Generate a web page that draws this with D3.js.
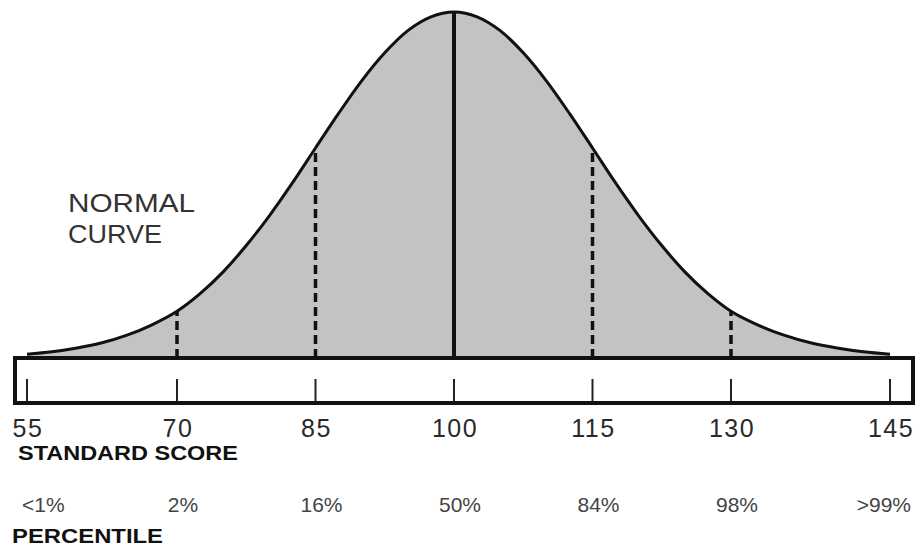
<!DOCTYPE html>
<html>
<head>
<meta charset="utf-8">
<script src="https://cdn.jsdelivr.net/npm/d3@7"></script>
<style>
  body { margin: 0; background: #fff; }
  svg { display: block; }
  text { font-family: "Liberation Sans", Arial, sans-serif; }
</style>
</head>
<body>
<div id="chart"></div>
<script>
// standard scores marked on the scale
var scores = [55, 70, 85, 100, 115, 130, 145];
var percentiles = ["<1%", "2%", "16%", "50%", "84%", "98%", ">99%"];
// dashed / solid guide lines
var guideScores = [70, 85, 115, 130];
var meanScore = 100;

// curve height (percent of peak)
var curveScores = [55, 57.5, 60, 62.5, 65, 67.5, 70, 72.5, 75, 77.5, 80, 82.5, 85, 87.5, 90, 92.5, 95, 97.5,
                   100, 102.5, 105, 107.5, 110, 112.5, 115, 117.5, 120, 122.5, 125, 127.5, 130, 132.5, 135, 137.5, 140, 142.5, 145];
var curveHeights = [1.1, 1.8, 2.9, 4.4, 6.6, 9.6, 13.5, 18.6, 24.9, 32.5, 41.1, 50.6, 60.7, 70.7, 80.1, 88.2, 94.6, 98.6,
                    100, 98.6, 94.6, 88.2, 80.1, 70.7, 60.7, 50.6, 41.1, 32.5, 24.9, 18.6, 13.5, 9.6, 6.6, 4.4, 2.9, 1.8, 1.1];

var width = 916, height = 549;
var box = {left: 15, right: 913, top: 358, bottom: 403};

var svg = d3.select("#chart").append("svg")
    .attr("width", width)
    .attr("height", height);

// the printed scale is a little stretched at the ends
var x = d3.scaleLinear()
    .domain([55, 70, 130, 145])
    .range([27, 177, 731, 890]);
var y = d3.scaleLinear()
    .domain([0, 100])
    .range([box.top, 12]);

var pts = curveScores.map(function (s, i) { return {s: s, h: curveHeights[i]}; });

// shaded area under the curve
var area = d3.area()
    .x(function (d) { return x(d.s); })
    .y0(y(0))
    .y1(function (d) { return y(d.h); })
    .curve(d3.curveMonotoneX);

svg.append("path")
    .datum(pts)
    .attr("d", area)
    .attr("fill", "#c3c3c3");

// guide lines at +-1 and +-2 sd
var hmap = {};
pts.forEach(function (d) { hmap[d.s] = d.h; });

svg.selectAll("line.guide")
    .data(guideScores)
    .enter()
    .append("line")
    .attr("class", "guide")
    .attr("x1", function (d) { return x(d); })
    .attr("x2", function (d) { return x(d); })
    .attr("y1", y(0))
    .attr("y2", function (d) { return y(hmap[d]); })
    .attr("stroke", "#111")
    .attr("stroke-width", 3.5)
    .attr("stroke-dasharray", "9,5");

svg.append("line")
    .attr("x1", x(meanScore)).attr("x2", x(meanScore))
    .attr("y1", y(0)).attr("y2", y(hmap[meanScore]))
    .attr("stroke", "#111")
    .attr("stroke-width", 4);

// curve outline
var line = d3.line()
    .x(function (d) { return x(d.s); })
    .y(function (d) { return y(d.h); })
    .curve(d3.curveMonotoneX);

svg.append("path")
    .datum(pts)
    .attr("d", line)
    .attr("fill", "none")
    .attr("stroke", "#111")
    .attr("stroke-width", 3);

// scale box
svg.append("rect")
    .attr("x", box.left)
    .attr("y", box.top)
    .attr("width", box.right - box.left)
    .attr("height", box.bottom - box.top)
    .attr("fill", "#fff")
    .attr("stroke", "#111")
    .attr("stroke-width", 4);

// ticks inside the box
svg.selectAll("line.tick")
    .data(scores)
    .enter()
    .append("line")
    .attr("class", "tick")
    .attr("x1", function (d) { return x(d); })
    .attr("x2", function (d) { return x(d); })
    .attr("y1", box.bottom - 2)
    .attr("y2", box.bottom - 24)
    .attr("stroke", "#222")
    .attr("stroke-width", 2);

// score labels
svg.selectAll("text.score")
    .data(scores)
    .enter()
    .append("text")
    .attr("class", "score")
    .attr("x", function (d) { return x(d) + 1; })
    .attr("y", 437)
    .attr("text-anchor", "middle")
    .attr("font-size", 25)
    .attr("letter-spacing", 1.5)
    .attr("fill", "#2a2a2a")
    .text(function (d) { return d; });

svg.append("text")
    .attr("x", 18).attr("y", 460)
    .attr("font-size", 21)
    .attr("font-weight", "bold")
    .attr("textLength", 220)
    .attr("lengthAdjust", "spacingAndGlyphs")
    .attr("fill", "#111")
    .text("STANDARD SCORE");

// percentile labels
svg.selectAll("text.pct")
    .data(percentiles)
    .enter()
    .append("text")
    .attr("class", "pct")
    .attr("x", function (d, i) {
        if (i === 0) return x(scores[i]) - 5;
        if (i === percentiles.length - 1) return box.right - 2;
        return x(scores[i]) + 6;
    })
    .attr("y", 512)
    .attr("text-anchor", function (d, i) {
        if (i === 0) return "start";
        if (i === percentiles.length - 1) return "end";
        return "middle";
    })
    .attr("font-size", 21)
    .attr("fill", "#444")
    .text(function (d) { return d; });

svg.append("text")
    .attr("x", 12).attr("y", 543)
    .attr("font-size", 21)
    .attr("font-weight", "bold")
    .attr("textLength", 151)
    .attr("lengthAdjust", "spacingAndGlyphs")
    .attr("fill", "#111")
    .text("PERCENTILE");

// curve label
svg.append("text")
    .attr("x", 68).attr("y", 212)
    .attr("font-size", 26)
    .attr("textLength", 127)
    .attr("lengthAdjust", "spacingAndGlyphs")
    .attr("fill", "#333")
    .text("NORMAL");
svg.append("text")
    .attr("x", 68).attr("y", 243)
    .attr("font-size", 26)
    .attr("textLength", 94)
    .attr("lengthAdjust", "spacingAndGlyphs")
    .attr("fill", "#333")
    .text("CURVE");
</script>
</body>
</html>
